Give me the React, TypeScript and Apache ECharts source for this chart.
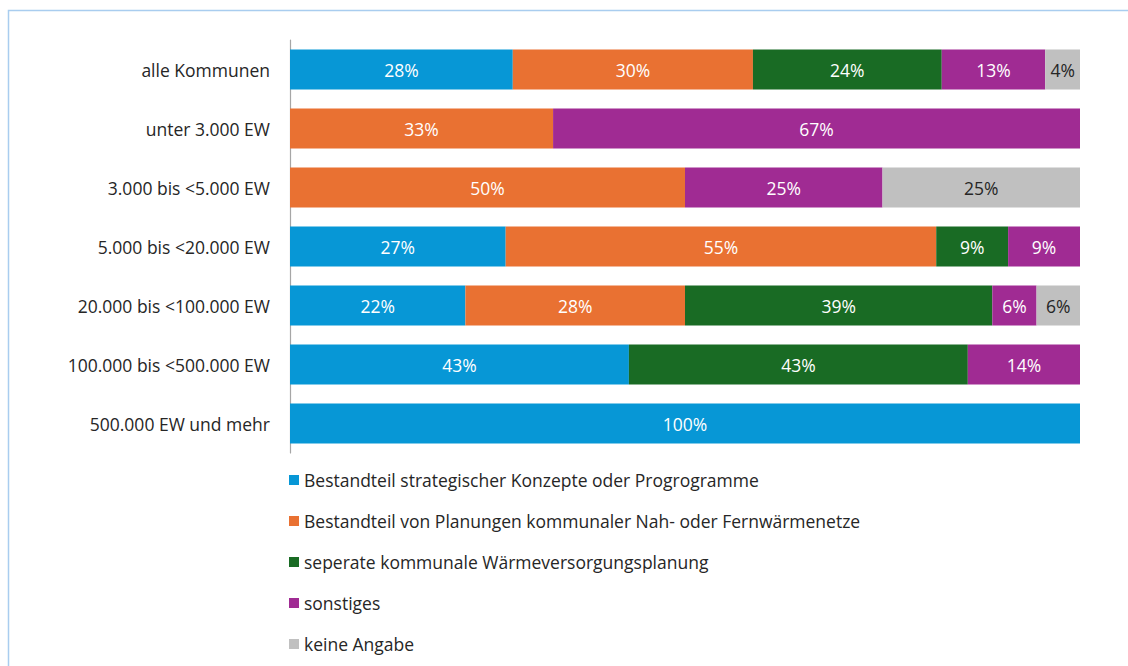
import React, { useEffect, useRef } from "react";
import * as echarts from "echarts";

const categories = [
  "alle Kommunen",
  "unter 3.000 EW",
  "3.000 bis <5.000 EW",
  "5.000 bis <20.000 EW",
  "20.000 bis <100.000 EW",
  "100.000 bis <500.000 EW",
  "500.000 EW und mehr",
];

const seriesNames = [
  "Bestandteil strategischer Konzepte oder Progrogramme",
  "Bestandteil von Planungen kommunaler Nah- oder Fernwärmenetze",
  "seperate kommunale Wärmeversorgungsplanung",
  "sonstiges",
  "keine Angabe",
];

const strategisch = [28.2, 0, 0, 27.3, 22.2, 42.9, 100];
const nahFern = [30.4, 33.3, 50, 54.5, 27.8, 0, 0];
const separat = [23.9, 0, 0, 9.1, 38.9, 42.9, 0];
const sonstiges = [13.1, 66.7, 25, 9.1, 5.6, 14.2, 0];
const keineAngabe = [4.4, 0, 25, 0, 5.5, 0, 0];

const colors = ["#0797d6", "#e97132", "#196b24", "#a02b93", "#c0c0c0"];
const labelColors = ["#ffffff", "#ffffff", "#ffffff", "#ffffff", "#262626"];

const FONT = "Open Sans";
const FS = 17.5;

export default function App() {
  const ref = useRef<HTMLDivElement>(null);
  useEffect(() => {
    if (!ref.current) return;
    const chart = echarts.init(ref.current, null, { renderer: "svg" });
    const allData = [strategisch, nahFern, separat, sonstiges, keineAngabe];
    chart.setOption({
      animation: false,
      textStyle: { fontFamily: FONT },
      graphic: [
        {
          type: "rect",
          shape: { x: 8.5, y: 10.5, width: 1200, height: 700 },
          style: { fill: "none", stroke: "#a9cdef", lineWidth: 1.5 },
          silent: true,
        },
      ],
      grid: { left: 290, right: 48, top: 40, height: 413, containLabel: false },
      xAxis: {
        type: "value",
        min: 0,
        max: 100,
        show: false,
      },
      yAxis: {
        type: "category",
        data: categories,
        inverse: true,
        axisLine: { show: true, lineStyle: { color: "#a6a6a6", width: 1.2 } },
        axisTick: { show: false },
        axisLabel: {
          color: "#262626",
          fontSize: FS,
          fontFamily: FONT,
          margin: 20,
        },
      },
      legend: {
        orient: "vertical",
        left: 284,
        top: 466,
        itemWidth: 10,
        itemHeight: 10,
        itemGap: 23,
        icon: "rect",
        textStyle: { color: "#262626", fontSize: FS, fontFamily: FONT },
        data: seriesNames,
      },
      series: allData.map((d, i) => ({
        name: seriesNames[i],
        type: "bar",
        stack: "total",
        barWidth: 40,
        itemStyle: { color: colors[i] },
        label: {
          show: true,
          position: "inside",
          color: labelColors[i],
          fontSize: FS,
          fontFamily: FONT,
          formatter: (p: any) => (p.value > 0 ? Math.round(p.value) + "%" : ""),
        },
        data: d.map((v) => (v > 0 ? v : null)),
      })),
    });
    return () => chart.dispose();
  }, []);
  return (
    <div
      ref={ref}
      style={{ position: "fixed", left: 0, top: 0, width: 1128, height: 666, background: "#fff" }}
    />
  );
}
